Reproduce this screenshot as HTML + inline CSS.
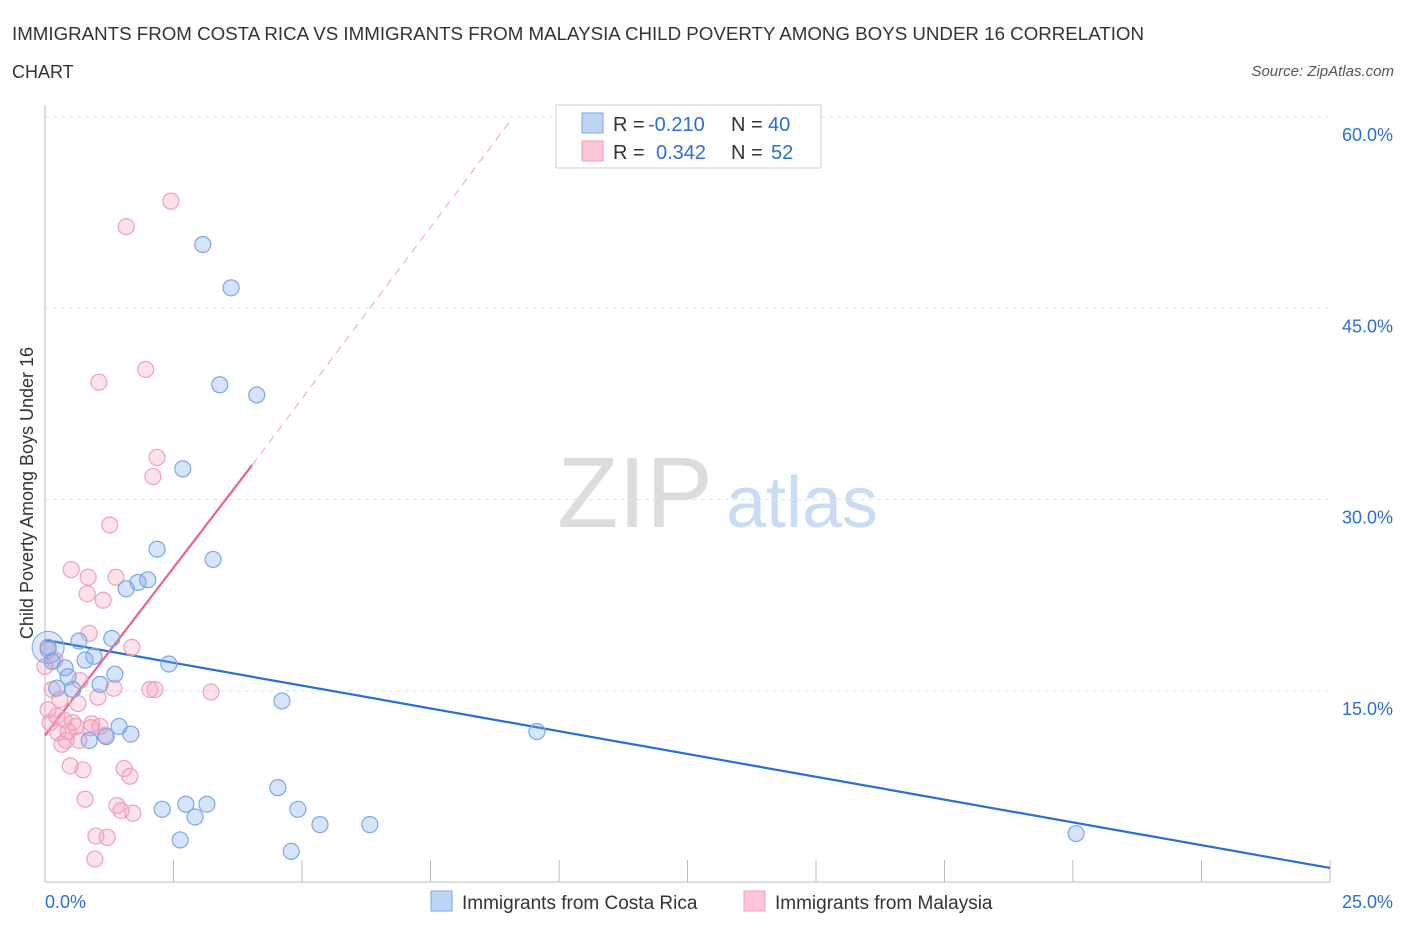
<!DOCTYPE html>
<html><head><meta charset="utf-8"><style>
body{margin:0;background:#fff;font-family:"Liberation Sans",sans-serif;}
svg text{font-family:"Liberation Sans",sans-serif;}
</style></head><body>
<svg id="chart" width="1406" height="930" xmlns="http://www.w3.org/2000/svg">
<text x="12" y="40" font-size="18" fill="#333" textLength="1132" lengthAdjust="spacingAndGlyphs">IMMIGRANTS FROM COSTA RICA VS IMMIGRANTS FROM MALAYSIA CHILD POVERTY AMONG BOYS UNDER 16 CORRELATION</text>
<text x="12" y="78" font-size="18" fill="#333">CHART</text>
<text x="1394" y="76" font-size="15" fill="#555" font-style="italic" text-anchor="end">Source: ZipAtlas.com</text>
<text transform="translate(33,493) rotate(-90)" font-size="18" fill="#333" text-anchor="middle">Child Poverty Among Boys Under 16</text>
<g>
<text x="635" y="527" font-size="100" fill="#dcdcdc" font-family="Liberation Serif" text-anchor="middle">ZIP</text>
<text x="802" y="527" font-size="72" fill="#c8dcf3" text-anchor="middle">atlas</text>
</g>
<g id="grid"></g><g id="axes"></g><g id="lines"></g><g id="pts"></g>
<g>
<rect x="556" y="105" width="265" height="63" fill="#fff" stroke="#ccc"/>
<rect x="582" y="113" width="21" height="20" fill="#bcd5f7" stroke="#7aa6e6"/>
<rect x="582" y="141" width="21" height="20" fill="#fcc6d6" stroke="#f0a0b8"/>
<text x="613" y="131" font-size="20" fill="#333">R =</text>
<text x="648" y="131" font-size="20" fill="#2a6fd6">-0.210</text>
<text x="731" y="131" font-size="20" fill="#333">N =</text>
<text x="768" y="131" font-size="20" fill="#2a6fd6">40</text>
<text x="613" y="159" font-size="20" fill="#333">R =</text>
<text x="656" y="159" font-size="20" fill="#2a6fd6">0.342</text>
<text x="731" y="159" font-size="20" fill="#333">N =</text>
<text x="771" y="159" font-size="20" fill="#2a6fd6">52</text>
</g>
<g>
<rect x="431" y="891" width="21" height="20" fill="#bcd5f7" stroke="#7aa6e6"/>
<text x="462" y="909" font-size="19" fill="#333">Immigrants from Costa Rica</text>
<rect x="744" y="891" width="21" height="20" fill="#fcc6d6" stroke="#f0a0b8"/>
<text x="775" y="909" font-size="19" fill="#333">Immigrants from Malaysia</text>
</g>
</svg>
<script>
const blueX=[3.07,3.62,3.40,4.12,2.68,2.18,3.27,2.00,1.81,1.58,1.30,0.66,0.06,0.14,0.78,0.95,0.39,0.45,0.23,0.54,1.07,1.36,2.41,4.61,1.44,1.67,1.19,0.86,9.57,4.53,2.28,2.74,3.15,2.92,4.92,5.35,6.32,2.63,4.79,20.06];
const blueY=[50.0,46.6,39.0,38.2,32.4,26.1,25.3,23.7,23.5,23.0,19.1,18.9,18.4,17.3,17.4,17.7,16.8,16.1,15.2,15.1,15.5,16.3,17.1,14.2,12.2,11.6,11.4,11.1,11.8,7.4,5.7,6.1,6.1,5.1,5.7,4.5,4.5,3.3,2.4,3.8];
const pinkX=[2.45,1.58,1.96,1.05,2.18,2.10,1.26,0.51,0.84,1.38,0.82,1.13,0.86,1.69,0.06,0.19,0.0,0.68,2.04,2.14,1.34,1.03,3.23,0.64,0.06,0.23,0.10,0.37,0.54,0.91,0.60,0.89,0.45,0.25,1.17,0.66,0.33,0.49,0.74,1.54,1.65,0.78,1.40,1.48,1.71,0.99,1.21,0.97,0.14,0.41,0.29,1.07];
const pinkY=[53.4,51.4,40.2,39.2,33.3,31.8,28.0,24.5,23.9,23.9,22.6,22.1,19.5,18.4,18.2,17.4,16.9,15.8,15.1,15.1,15.2,14.5,14.9,14.0,13.5,13.0,12.5,12.7,12.5,12.4,12.2,12.1,11.8,11.7,11.5,11.1,10.8,9.1,8.8,8.9,8.3,6.5,6.0,5.6,5.4,3.6,3.5,1.8,15.1,11.1,14.3,12.2];
const yTicks=[15,30,45,60];
const yTickLabels=["15.0%","30.0%","45.0%","60.0%"];
const blueTrend=[[0,18.98],[25,1.1]];
const pinkTrend=[[0,11.5],[4.03,32.7]];
const pinkDash=[[4.03,32.7],[9.09,59.9]];
const X=v=>45+v*51.4, Y=v=>882-v*12.75;
const NS="http://www.w3.org/2000/svg";
function mk(p,t,a){const e=document.createElementNS(NS,t);for(const k in a)e.setAttribute(k,a[k]);p.appendChild(e);return e;}
const grid=document.getElementById('grid'),axes=document.getElementById('axes'),lines=document.getElementById('lines'),pts=document.getElementById('pts');
yTicks.forEach((t,i)=>{
 const l=mk(grid,'line',{x1:45,x2:1330,y1:Y(t),y2:Y(t),stroke:'#e2e2e2','stroke-dasharray':'4 4'});
 
 
 const tx=mk(axes,'text',{x:1393,y:Y(t)+24,'font-size':18,fill:'#2a6fd6','text-anchor':'end'});
 tx.textContent=yTickLabels[i];
 
 
});
const xa=mk(axes,'line',{x1:45,x2:1330,y1:882,y2:882,stroke:'#bbb'});


const ya=mk(axes,'line',{x1:45,x2:45,y1:105,y2:882,stroke:'#bbb'});


for(let i=1;i<=10;i++){const tk=mk(axes,'line',{x1:X(i*2.5),x2:X(i*2.5),y1:860,y2:882,stroke:'#bbb'});
 
 }
[["0.0%",45,'start'],["25.0%",1393,'end']].forEach(([s,x,a])=>{const t=mk(axes,'text',{x:x,y:908,'font-size':18,fill:'#2a6fd6','text-anchor':a});t.textContent=s;
 
 });
function seg(s,attrs,name){const l=mk(lines,'line',Object.assign({x1:X(s[0][0]),y1:Y(s[0][1]),x2:X(s[1][0]),y2:Y(s[1][1])},attrs));
 
 }
seg(blueTrend,{stroke:'#2a6fd6','stroke-width':2.2},'costa-rica-trendline');
seg(pinkTrend,{stroke:'#e8628c','stroke-width':2.2},'malaysia-trendline');
seg(pinkDash,{stroke:'#f0b0c4','stroke-width':1.2,'stroke-dasharray':'8 6'},'malaysia-trendline-extension');
function dots(xs,ys,fill,stroke,name){xs.forEach((x,i)=>{const c=mk(pts,'circle',{cx:X(x),cy:Y(ys[i]),r:8,fill:fill,stroke:stroke,'stroke-width':1.2});
 
 });}
dots(pinkX,pinkY,'rgba(245,160,190,0.3)','#f0a0b8','malaysia-point');
dots(blueX,blueY,'rgba(120,165,235,0.3)','#7aa6e6','costa-rica-point');
const big=mk(pts,'circle',{cx:X(0.06),cy:Y(18.4),r:16,fill:'rgba(120,165,235,0.25)',stroke:'#7aa6e6'});


</script>
</body></html>
